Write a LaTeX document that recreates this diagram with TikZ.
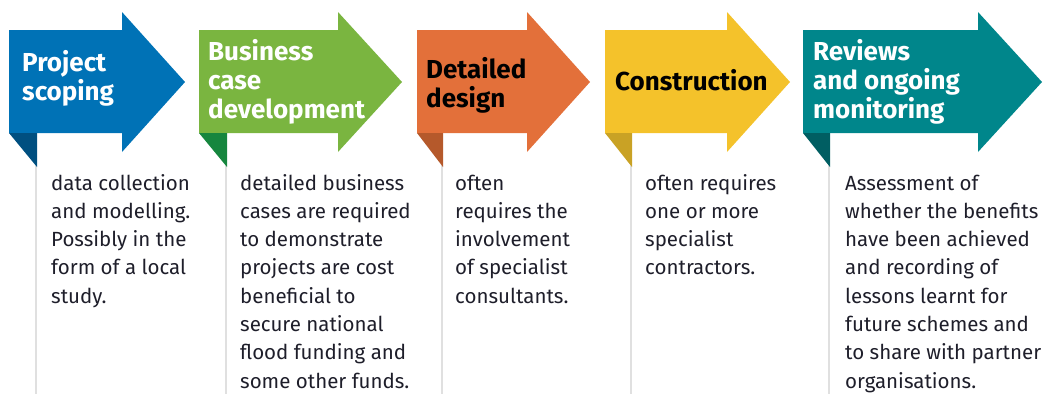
\documentclass[tikz,border=0pt]{standalone}
\usepackage{fontspec}
\setmainfont{Fira Sans}
\usetikzlibrary{positioning}
\definecolor{scopeblue}{HTML}{0072B6}
\definecolor{scopebluedark}{HTML}{004F80}
\definecolor{casegreen}{HTML}{7AB540}
\definecolor{casegreendark}{HTML}{16863E}
\definecolor{designorange}{HTML}{E3703A}
\definecolor{designorangedark}{HTML}{B5592B}
\definecolor{buildyellow}{HTML}{F4C22B}
\definecolor{buildyellowdark}{HTML}{C9A225}
\definecolor{reviewteal}{HTML}{00868B}
\definecolor{reviewtealdark}{HTML}{005E62}
\definecolor{bodyink}{HTML}{1E1E2A}

\begin{document}
\begin{tikzpicture}[x=1pt, y=-1pt,
  title/.style={font=\fontsize{26}{29}\selectfont\bfseries, align=left, anchor=base west, inner sep=0pt},
  body/.style={font=\fontsize{20.5}{28.3}\selectfont, align=left, anchor=base west, inner sep=0pt, text=bodyink},
  panelshadow/.style={black!12, line width=2pt}]
  \useasboundingbox (0,0) rectangle (1045,394);
  % shadows of the text panels
  \draw[panelshadow] (36,133) -- (36,394);
  \draw[panelshadow] (226,133) -- (226,394);
  \draw[panelshadow] (442,133) -- (442,394);
  \draw[panelshadow] (631,133) -- (631,394);
  \draw[panelshadow] (829,133) -- (829,394);
  % arrows
  \fill[scopeblue] (9,30) -- (122,30) -- (122,12) -- (185,82) -- (122,152) -- (122,133) -- (9,133) -- cycle;
  \fill[scopebluedark] (9,133) -- (37,133) -- (37,167) -- cycle;
  \fill[casegreen] (199,30) -- (338,30) -- (338,12) -- (402,82) -- (338,152) -- (338,133) -- (199,133) -- cycle;
  \fill[casegreendark] (199,133) -- (227,133) -- (227,167) -- cycle;
  \fill[designorange] (417,30) -- (527,30) -- (527,12) -- (590,82) -- (527,152) -- (527,133) -- (417,133) -- cycle;
  \fill[designorangedark] (417,133) -- (443,133) -- (443,167) -- cycle;
  \fill[buildyellow] (605,30) -- (727,30) -- (727,12) -- (790,82) -- (727,152) -- (727,133) -- (605,133) -- cycle;
  \fill[buildyellowdark] (605,133) -- (632,133) -- (632,167) -- cycle;
  \fill[reviewteal] (803,30) -- (978,30) -- (978,12) -- (1042,82) -- (978,152) -- (978,133) -- (803,133) -- cycle;
  \fill[reviewtealdark] (803,133) -- (830,133) -- (830,167) -- cycle;
  % stage titles (placed at the baseline of the last line)
  \node[title, text=white] (p1) at (22,100) {Project\\scoping};
  \node[title, text=white] (p2) at (208,118) {Business\\case\\development};
  \node[title, text=black] (p3) at (426,107) {Detailed\\design};
  \node[title, text=black] (p4) at (615,90) {Construction};
  \node[title, text=white] (p5) at (813,118) {Reviews\\and ongoing\\monitoring};
  % descriptions
  \node[body] (d1) at (51,303.2) {data collection\\and modelling.\\Possibly in the\\form of a local\\study.};
  \node[body] (d2) at (240,388.1) {detailed business\\cases are required\\to demonstrate\\projects are cost\\beneficial to\\secure national\\flood funding and\\some other funds.};
  \node[body] (d3) at (455,303.2) {often\\requires the\\involvement\\of specialist\\consultants.};
  \node[body] (d4) at (645,274.9) {often requires\\one or more\\specialist\\contractors.};
  \node[body] (d5) at (845,388.1) {Assessment of\\whether the benefits\\have been achieved\\and recording of\\lessons learnt for\\future schemes and\\to share with partner\\organisations.};
\end{tikzpicture}
\end{document}
